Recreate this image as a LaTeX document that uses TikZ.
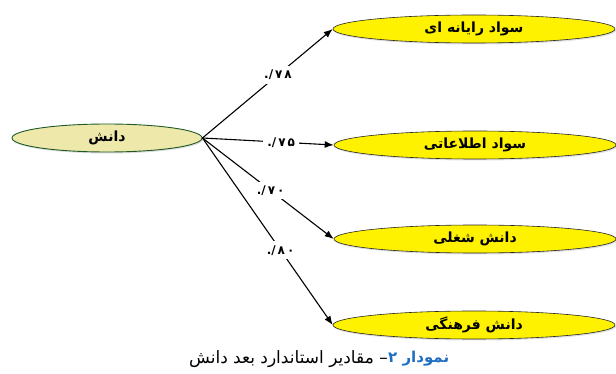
\documentclass[tikz,border=0pt]{standalone}
\usepackage{fontspec}
\usetikzlibrary{shapes.geometric,arrows.meta,shadows}
\TeXXeTstate=1
\newfontfamily\arabicfont[Script=Arabic]{DejaVu Sans}
\newfontfamily\numfont{DejaVu Sans}
\definecolor{khakifill}{RGB}{238,232,170}
\definecolor{darkgreenline}{RGB}{30,90,40}
\definecolor{capblue}{RGB}{31,110,193}
\tikzset{
  target/.style={ellipse, draw=black!85, line width=0.6pt, fill=yellow, minimum width=282pt, minimum height=28pt, inner sep=0pt, font=\arabicfont\bfseries\fontsize{14}{16}\selectfont, drop shadow={opacity=0.25, shadow xshift=1pt, shadow yshift=-1.5pt}},
  source/.style={ellipse, draw=darkgreenline, line width=0.9pt, fill=khakifill, minimum width=190pt, minimum height=28pt, inner sep=0pt, font=\arabicfont\bfseries\fontsize{14}{16}\selectfont, drop shadow={opacity=0.25, shadow xshift=1pt, shadow yshift=-1.5pt}},
  conn/.style={draw=black, line width=1.1pt, -{Latex[length=9pt,width=7pt]}},
  lab/.style={fill=white, inner sep=4pt, font=\numfont\bfseries\fontsize{12}{14}\selectfont},
  captext/.style={inner sep=0pt, font=\arabicfont\fontsize{17}{20}\selectfont}
}
\begin{document}
\begin{tikzpicture}[x=1pt,y=-1pt]
\useasboundingbox (0,0) rectangle (616,374);
\node[source] (s) at (107,138) {\beginR دانش\endR};
\node[target] (t1) at (474,29) {\beginR سواد رایانه ای\endR};
\node[target] (t2) at (475,145) {\beginR سواد اطلاعاتی\endR};
\node[target] (t3) at (475,239) {\beginR دانش شغلی\endR};
\node[target] (t4) at (474,325) {\beginR دانش فرهنگی\endR};
\draw[conn] (s.east) -- node[lab, pos=0.58] {./\,۷\,۸} (t1.west);
\draw[conn] (s.east) -- node[lab, pos=0.6] {./\,۷\,۵} (t2.west);
\draw[conn] (s.east) -- node[lab, pos=0.52] {./\,۷\,۰} (t3.west);
\draw[conn] (s.east) -- node[lab, pos=0.6] {./\,۸\,۰} (t4.west);
\node[captext, anchor=east] (capa) at (388,359) {\beginR – مقادیر استاندارد بعد دانش\endR};
\node[captext, anchor=west, text=capblue, font=\arabicfont\bfseries\fontsize{15}{18}\selectfont] (capb) at (capa.east) {\beginR نمودار ۲\endR};
\end{tikzpicture}
\end{document}
